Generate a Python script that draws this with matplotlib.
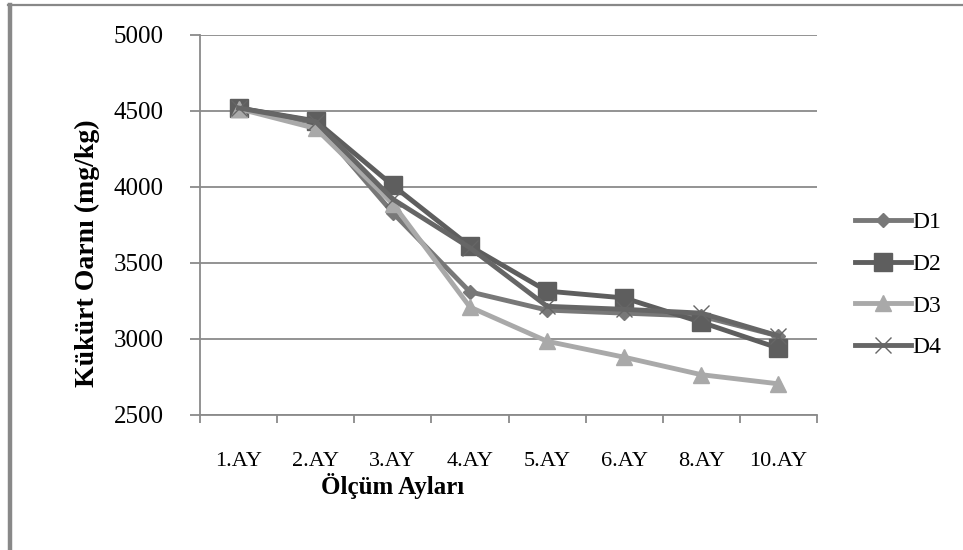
import matplotlib.pyplot as plt
from matplotlib.lines import Line2D

months = ["1.AY", "2.AY", "3.AY", "4.AY", "5.AY", "6.AY", "8.AY", "10.AY"]
d1 = [4520, 4420, 3830, 3310, 3190, 3170, 3150, 3020]
d2 = [4520, 4435, 4010, 3610, 3315, 3270, 3110, 2940]
d3 = [4515, 4385, 3890, 3210, 2985, 2880, 2765, 2705]
d4 = [4520, 4430, 3920, 3600, 3215, 3195, 3170, 3020]
yticks = [2500, 3000, 3500, 4000, 4500, 5000]

serif = "Liberation Serif"
fig = plt.figure(figsize=(9.63, 5.5), dpi=100)
ax = fig.add_axes([0.2077, 0.2455, 0.6407, 0.6909])

x = list(range(len(months)))
ax.plot(x, d1, color="#787878", lw=3.5, marker="D", ms=7, label="D1", zorder=3)
ax.plot(x, d2, color="#5e5e5e", lw=3.5, marker="s", ms=13, label="D2", zorder=3)
ax.plot(x, d3, color="#a9a9a9", lw=3.5, marker="^", ms=12, label="D3", zorder=3)
ax.plot(x, d4, color="#666666", lw=3.5, marker="x", ms=11, mew=1.0,
        label="D4", zorder=3)

ax.set_ylim(2500, 5000)
ax.set_xlim(-0.5, len(months) - 0.5)
ax.set_yticks(yticks)
ax.set_yticklabels([str(v) for v in yticks], fontfamily=serif, fontsize=18)
ax.yaxis.grid(True, color="#8a8a8a", lw=1.3)
ax.set_axisbelow(True)

ax.set_xticks(x)
ax.set_xticklabels(months, fontfamily=serif, fontsize=16)
ax.set_xticks([i - 0.5 for i in range(len(months) + 1)], minor=True)
ax.tick_params(axis="x", which="major", length=0, pad=27)
ax.tick_params(axis="x", which="minor", length=6, color="#8a8a8a", width=1.3)
ax.tick_params(axis="y", length=7, color="#8a8a8a", width=1.3, pad=19)

for side in ["top", "right"]:
    ax.spines[side].set_visible(False)
for side in ["left", "bottom"]:
    ax.spines[side].set_color("#8a8a8a")
    ax.spines[side].set_linewidth(1.3)

fig.text(87 / 963, 1 - 253 / 550, "Kükürt Oarnı (mg/kg)", rotation=90,
         ha="center", va="center", fontfamily=serif, fontsize=20,
         fontweight="bold")
fig.text(393 / 963, 1 - 486 / 550, "Ölçüm Ayları", ha="center", va="center",
         fontfamily=serif, fontsize=18, fontweight="bold")

fig.legend(handles=ax.get_lines(), loc="upper left",
           bbox_to_anchor=(843 / 963, 1 - 200 / 550), frameon=False,
           borderpad=0, prop={"family": serif, "size": 17}, handlelength=2.4,
           handletextpad=0.05, labelspacing=0.85)

# frame around the figure: thick left edge, thin top edge
fig.add_artist(Line2D([9.5 / 963, 9.5 / 963], [0, 1 - 5 / 550],
                      transform=fig.transFigure, color="#888888", lw=3.2))
fig.add_artist(Line2D([8 / 963, 1], [1 - 5 / 550, 1 - 5 / 550],
                      transform=fig.transFigure, color="#888888", lw=1.6))

fig.savefig("out.png", dpi=100)
